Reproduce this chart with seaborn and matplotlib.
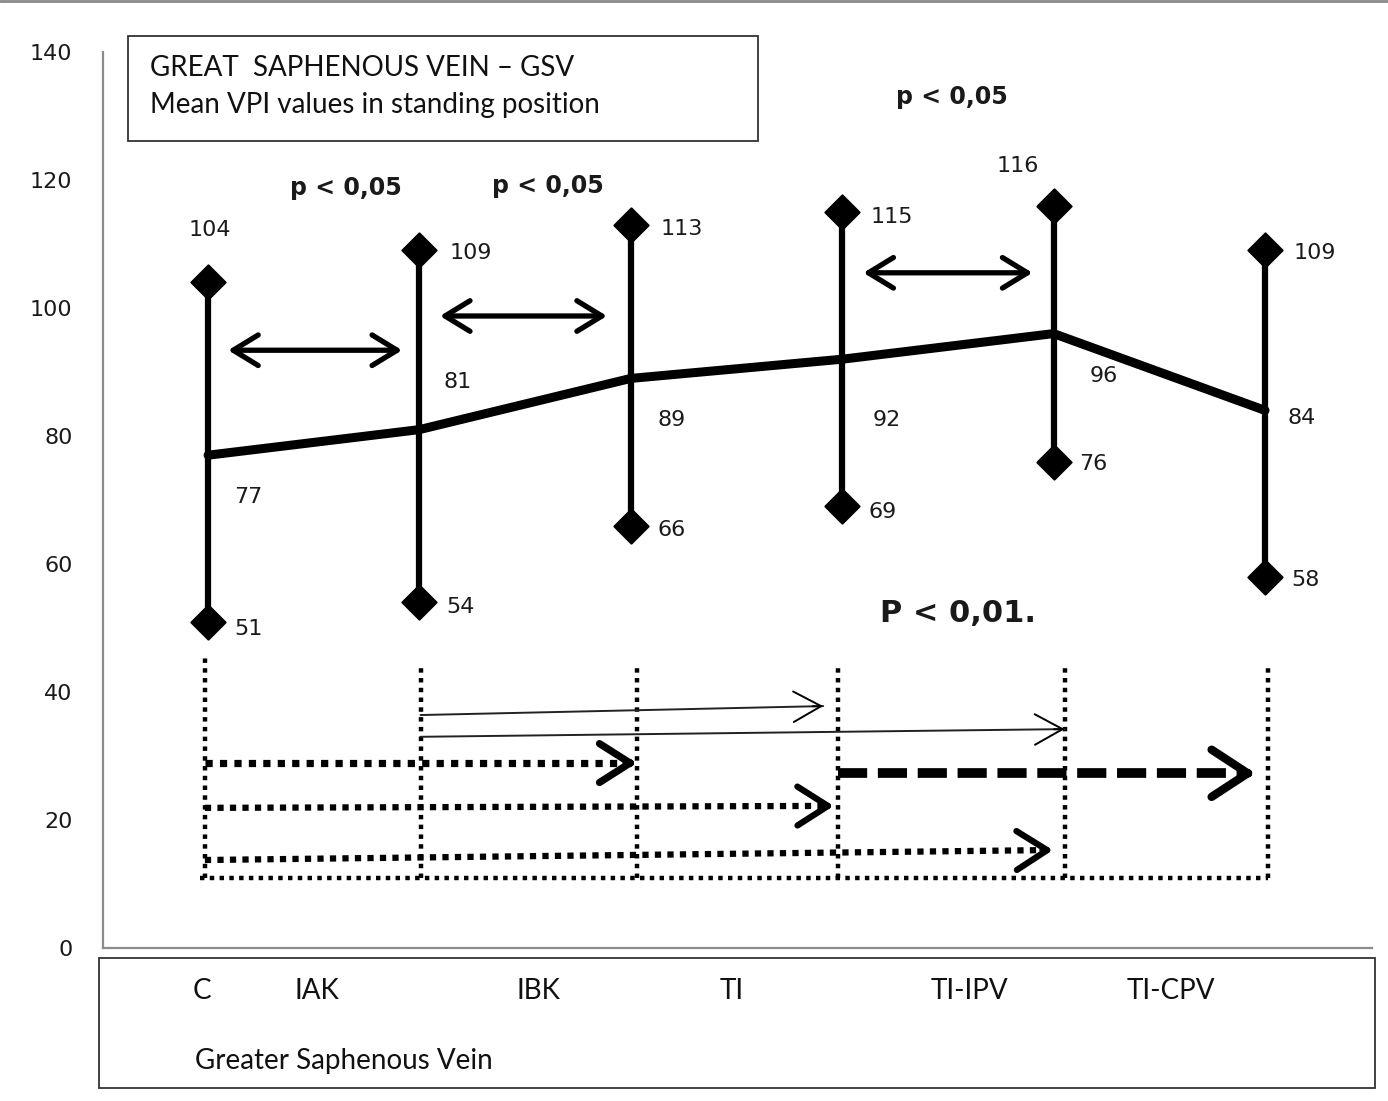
import matplotlib
matplotlib.use("Agg")
import matplotlib.pyplot as plt
import seaborn as sns
import numpy as np
import pandas as pd
from matplotlib.patches import Rectangle
from matplotlib.lines import Line2D

# ---------------- data ----------------
categories = ["C", "IAK", "IBK", "TI", "TI-IPV", "TI-CPV"]
mean_vpi = [77, 81, 89, 92, 96, 84]
max_vpi = [104, 109, 113, 115, 116, 109]
min_vpi = [51, 54, 66, 69, 76, 58]
y_ticks = [0, 20, 40, 60, 80, 100, 120, 140]
title_lines = ["GREAT  SAPHENOUS VEIN \u2013 GSV", "Mean VPI values in standing position"]
axis_title = "Greater Saphenous Vein"
# significance between adjacent groups (from, to, label)
adjacent_sig = [(0, 1, "p < 0,05"), (1, 2, "p < 0,05"), (3, 4, "p < 0,05")]
# long-range comparisons (from, to)
thin_comparisons = [(1, 3), (1, 4)]
dotted_comparisons = [(0, 2), (0, 3), (0, 4)]
dashed_comparisons = [(3, 5)]
overall_label = "P < 0,01."

df = pd.DataFrame({"pos": np.arange(len(categories)), "cat": categories,
                   "mean": mean_vpi, "max": max_vpi, "min": min_vpi})

# ---------------- figure ----------------
W, H = 1388, 1101
fig = plt.figure(figsize=(W / 100, H / 100), dpi=100)
sns.set_style("white")
plt.rcParams["font.family"] = ["DejaVu Sans"]

def fx(px):
    return px / W

def fy(py):
    return 1 - py / H

ax = fig.add_axes([fx(103), fy(948), (1372 - 103) / W, (948 - 52) / H])
ax.set_xlim(-0.497, 5.506)
ax.set_ylim(0, 140)
ax.patch.set_alpha(0)

for s in ["top", "right"]:
    ax.spines[s].set_visible(False)
for s in ["left", "bottom"]:
    ax.spines[s].set_color("#8c8c8c")
    ax.spines[s].set_linewidth(1.6)
ax.set_xticks([])
ax.set_yticks(y_ticks)
ax.set_yticklabels([str(t) for t in y_ticks], fontsize=16, color="#1a1a1a")
ax.tick_params(axis="y", length=0, pad=22)

# range bars
ax.vlines(df["pos"], df["min"], df["max"], color="black", lw=4.5, zorder=3)
# mean line
sns.lineplot(data=df, x="pos", y="mean", color="black", lw=6.5, ax=ax,
             zorder=4, legend=False)
# diamonds
for col in ["max", "min"]:
    sns.scatterplot(data=df, x="pos", y=col, marker="D", s=17.5 ** 2,
                    color="black", edgecolor="black", ax=ax, zorder=5,
                    legend=False)
ax.set_xlabel("")
ax.set_ylabel("")

# value labels (offsets in pixels)
px2pt = 72 / 100
max_off = [(2, 52), (51, -3), (51, -4), (50, -5), (-36, 40), (50, -3)]
mean_off = [(40, -42), (38, 48), (41, -42), (45, -61), (50, -42), (37, -8)]
min_off = [(40, -7), (41, -5), (41, -4), (40, -6), (40, -2), (40, -3)]
for col, offs in [("max", max_off), ("mean", mean_off), ("min", min_off)]:
    for i, row in df.iterrows():
        ox, oy = offs[i]
        ax.annotate(str(row[col]), (row["pos"], row[col]),
                    xytext=(ox * px2pt, oy * px2pt), textcoords="offset points",
                    ha="center", va="center", fontsize=16,
                    color="#1a1a1a", zorder=6)

# adjacent significance double arrows + p labels
sig_y = [93.4, 98.75, 105.5]
sig_x = [(0.095, 0.918), (1.097, 1.887), (3.1, 3.9)]
sig_lab = [(346, 188), (548, 186), (952, 97)]
for k, (a, b, lab) in enumerate(adjacent_sig):
    x0, x1 = sig_x[k]
    ax.annotate("", xy=(x1, sig_y[k]), xytext=(x0, sig_y[k]),
                arrowprops=dict(arrowstyle="<->,head_length=0.9,head_width=0.55",
                                lw=3.8, color="black", mutation_scale=20,
                                shrinkA=0, shrinkB=0))
    fig.text(fx(sig_lab[k][0]), fy(sig_lab[k][1]), lab, ha="center", va="center",
             fontsize=17, fontweight="bold", color="#1a1a1a")

fig.text(fx(958), fy(614), overall_label, ha="center", va="center",
         fontsize=22, fontweight="bold", color="#1a1a1a")

# lower comparison bracket: dotted verticals and baseline
vline_dx = [-0.015, 0.005, 0.028, -0.02, 0.052, 0.014]
vline_top = [45.8, 43.75, 43.75, 43.75, 43.75, 43.75]
base_y = 10.9
for i in range(len(categories)):
    ax.plot([i + vline_dx[i]] * 2, [base_y, vline_top[i]], color="black",
            lw=3.2, ls=(0, (1, 1.2)), solid_capstyle="butt", zorder=2)
ax.plot([-0.038, 5 + vline_dx[5]], [base_y, base_y], color="black", lw=3.2,
        ls=(0, (1, 1.2)), zorder=2)

def head(x_end, y_end, lw, hl, hw, dx=0.05, slope=0.0):
    ax.annotate("", xy=(x_end, y_end), xytext=(x_end - dx, y_end - slope * dx),
                arrowprops=dict(arrowstyle=f"->,head_length={hl},head_width={hw}",
                                lw=lw, color="black", mutation_scale=20,
                                shrinkA=0, shrinkB=0), zorder=4)

# thin arrows
thin_y = [(36.4, 37.8), (33.0, 34.2)]
thin_end_gap = [0.07, 0.0]
for k, (a, b) in enumerate(thin_comparisons):
    x0 = a + vline_dx[a]
    x1 = b + vline_dx[b] - thin_end_gap[k]
    y0, y1 = thin_y[k]
    ax.plot([x0, x1], [y0, y1], color="#222222", lw=1.4, zorder=3)
    head(x1, y1, 1.4, 1.0, 0.55, dx=0.05, slope=(y1 - y0) / (x1 - x0))

# dotted arrows
dot_y = [(28.9, 28.9), (21.9, 22.2), (13.75, 15.3)]
dot_lw = [5.2, 4.5, 4.5]
dot_gap = [0.0, 0.02, 0.055]
for k, (a, b) in enumerate(dotted_comparisons):
    x0 = a + vline_dx[a]
    x1 = b + vline_dx[b] - dot_gap[k]
    y0, y1 = dot_y[k]
    ax.plot([x0, x1 - 0.03], [y0, y1], color="black", lw=dot_lw[k],
            ls=(0, (1, 1.0)), zorder=3)
    head(x1, y1, dot_lw[k] * 1.0, 1.1, 0.7, dx=0.05,
         slope=(y1 - y0) / (x1 - x0))

# dashed arrow
for a, b in dashed_comparisons:
    x0 = a + vline_dx[a]
    x1 = b + vline_dx[b] - 0.06
    ax.plot([x0, x1 - 0.04], [27.3, 27.3], color="black", lw=7,
            ls=(0, (3, 1.1)), zorder=3)
    head(x1, 27.3, 6, 1.3, 0.85, dx=0.06)

# title box
fig.patches.append(Rectangle((fx(128), fy(141)), (758 - 128) / W, (141 - 36) / H,
                             transform=fig.transFigure, fill=False,
                             edgecolor="#333333", lw=1.3))
fig.text(fx(150), fy(68), title_lines[0], ha="left", va="center", fontsize=20,
         family="Lato", color="#111111")
fig.text(fx(150), fy(105), title_lines[1], ha="left", va="center", fontsize=20,
         family="Lato", color="#111111")

# category box
fig.patches.append(Rectangle((fx(99), fy(1088)), (1375 - 99) / W, (1088 - 958) / H,
                             transform=fig.transFigure, fill=False,
                             edgecolor="#333333", lw=1.3))
cat_px = [202, 317, 538, 732, 969, 1171]
for c, px in zip(categories, cat_px):
    fig.text(fx(px), fy(991), c, ha="center", va="center", fontsize=20,
             family="Lato", color="#111111")
fig.text(fx(195), fy(1061), axis_title, ha="left", va="center", fontsize=20,
         family="Lato", color="#111111")

# top border line
fig.add_artist(Line2D([0, 1], [fy(1), fy(1)], transform=fig.transFigure,
                      color="#888888", lw=2))

fig.savefig("out.png", dpi=100)
